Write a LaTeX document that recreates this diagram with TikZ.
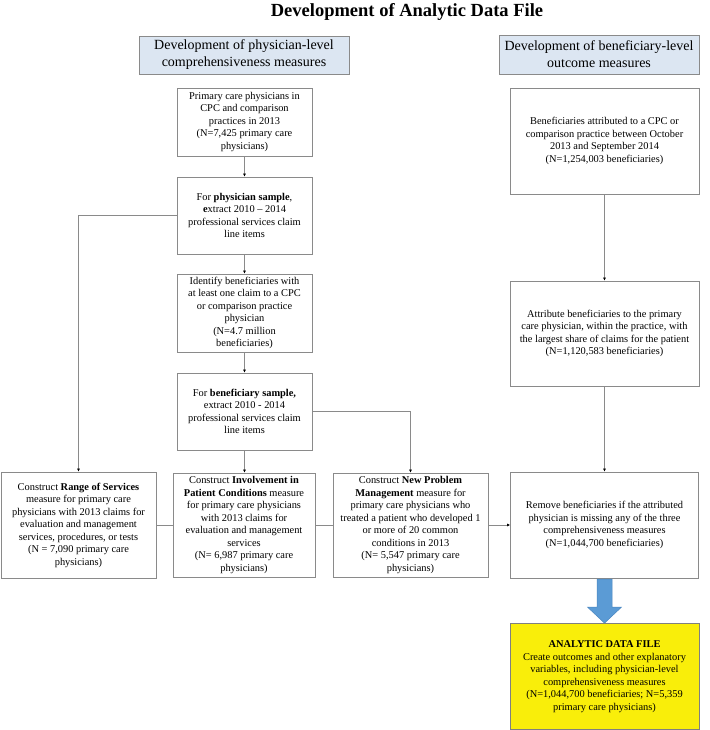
\documentclass[tikz,border=0pt]{standalone}
\usepackage{fontspec}
\setmainfont{Liberation Serif}
\usetikzlibrary{arrows.meta,calc}
\definecolor{bordergray}{HTML}{8A8A8A}
\definecolor{hdrblue}{HTML}{DCE6F2}
\definecolor{yel}{HTML}{F9EE0A}
\definecolor{blockblue}{HTML}{5B9BD5}
\definecolor{blockedge}{HTML}{4A86C0}
\begin{document}
\begin{tikzpicture}[x=1pt,y=-1pt,
  box/.style={draw=bordergray, line width=0.8pt, align=center, inner sep=0pt,
    font=\fontsize{10.4}{12.5}\selectfont},
  hdr/.style={box, fill=hdrblue, font=\fontsize{14}{17}\selectfont},
  final/.style={box, fill=yel, draw=gray},
  conn/.style={draw=bordergray, line width=0.8pt},
  arr/.style={conn, -{Latex[length=3pt,width=3pt,color=black]}},
  blockarrow/.style={fill=blockblue, draw=blockedge, line width=0.5pt}]
\useasboundingbox (0,0) rectangle (709,730);

\node[font=\bfseries\fontsize{18.5}{22}\selectfont] (title) at (407,12) {Development of Analytic Data File};

\node[hdr, minimum width=210pt, minimum height=38pt] (h1) at (244,55)
  {Development of physician-level\\comprehensiveness measures};
\node[hdr, minimum width=200pt, minimum height=39pt] (h2) at (599,54.5)
  {Development of beneficiary-level\\outcome measures};

\node[box, minimum width=135pt, minimum height=68pt] (A) at (244.5,122)
  {Primary care physicians in\\CPC and comparison\\practices in 2013\\(N=7,425 primary care\\physicians)};
\node[box, minimum width=135pt, minimum height=77pt] (B) at (244.5,215.5)
  {For \textbf{physician sample},\\\textbf{e}xtract 2010 – 2014\\professional services claim\\line items};
\node[box, minimum width=135pt, minimum height=78pt] (C) at (244.5,313)
  {Identify beneficiaries with\\at least one claim to a CPC\\or comparison practice\\physician\\(N=4.7 million\\beneficiaries)};
\node[box, minimum width=135pt, minimum height=77pt] (D) at (244.5,411.5)
  {For \textbf{beneficiary sample,}\\extract 2010 - 2014\\professional services claim\\line items};

\node[box, minimum width=189pt, minimum height=106pt] (R1) at (604.5,141)
  {Beneficiaries attributed to a CPC or\\comparison practice between October\\2013 and September 2014\\(N=1,254,003 beneficiaries)};
\node[box, minimum width=189pt, minimum height=105pt] (R2) at (604.5,333.5)
  {Attribute beneficiaries to the primary\\care physician, within the practice, with\\the largest share of claims for the patient\\(N=1,120,583 beneficiaries)};
\node[box, minimum width=188pt, minimum height=106pt] (R3) at (604.5,525)
  {Remove beneficiaries if the attributed\\physician is missing any of the three\\comprehensiveness measures\\(N=1,044,700 beneficiaries)};

\node[box, minimum width=155pt, minimum height=106pt] (E) at (78.5,525)
  {Construct \textbf{Range of Services}\\measure for primary care\\physicians with 2013 claims for\\evaluation and management\\services, procedures, or tests\\(N = 7,090 primary care\\physicians)};
\node[box, minimum width=142pt, minimum height=104pt] (F) at (244,525)
  {Construct \textbf{Involvement in}\\\textbf{Patient Conditions} measure\\for primary care physicians\\with 2013 claims for\\evaluation and management\\services\\(N= 6,987 primary care\\physicians)};
\node[box, minimum width=155pt, minimum height=104pt] (G) at (410.5,525)
  {Construct \textbf{New Problem}\\\textbf{Management} measure for\\primary care physicians who\\treated a patient who developed 1\\or more of 20 common\\conditions in 2013\\(N= 5,547 primary care\\physicians)};

\node[final, minimum width=189pt, minimum height=106pt] (Y) at (604.5,676.5)
  {\textbf{ANALYTIC DATA FILE}\\Create outcomes and other explanatory\\variables, including physician-level\\comprehensiveness measures\\(N=1,044,700 beneficiaries; N=5,359\\primary care physicians)};

% connectors
\draw[arr] (A.south) -- (B.north);
\draw[arr] (B.south) -- (C.north);
\draw[arr] (C.south) -- (D.north);
\draw[arr] (B.west) -| (E.north);
\draw[arr] (D.south) -- (D.south |- F.north);
\draw[arr] (D.east) -| (G.north);
\draw[conn] (E.east) -- (F.west);
\draw[conn] (F.east) -- (G.west);
\draw[arr] (G.east) -- (R3.west);
\draw[arr] (R1.south) -- (R2.north);
\draw[arr] (R2.south) -- (R3.north);

% block arrow
\coordinate (tip) at (R3.south |- Y.north);
\filldraw[blockarrow] ($(R3.south)+(-7.5,0.6)$) -- ($(R3.south)+(7.5,0.6)$)
  -- ($(tip)+(7.5,-16)$) -- ($(tip)+(17,-16)$) -- (tip)
  -- ($(tip)+(-17,-16)$) -- ($(tip)+(-7.5,-16)$) -- cycle;
\end{tikzpicture}
\end{document}
